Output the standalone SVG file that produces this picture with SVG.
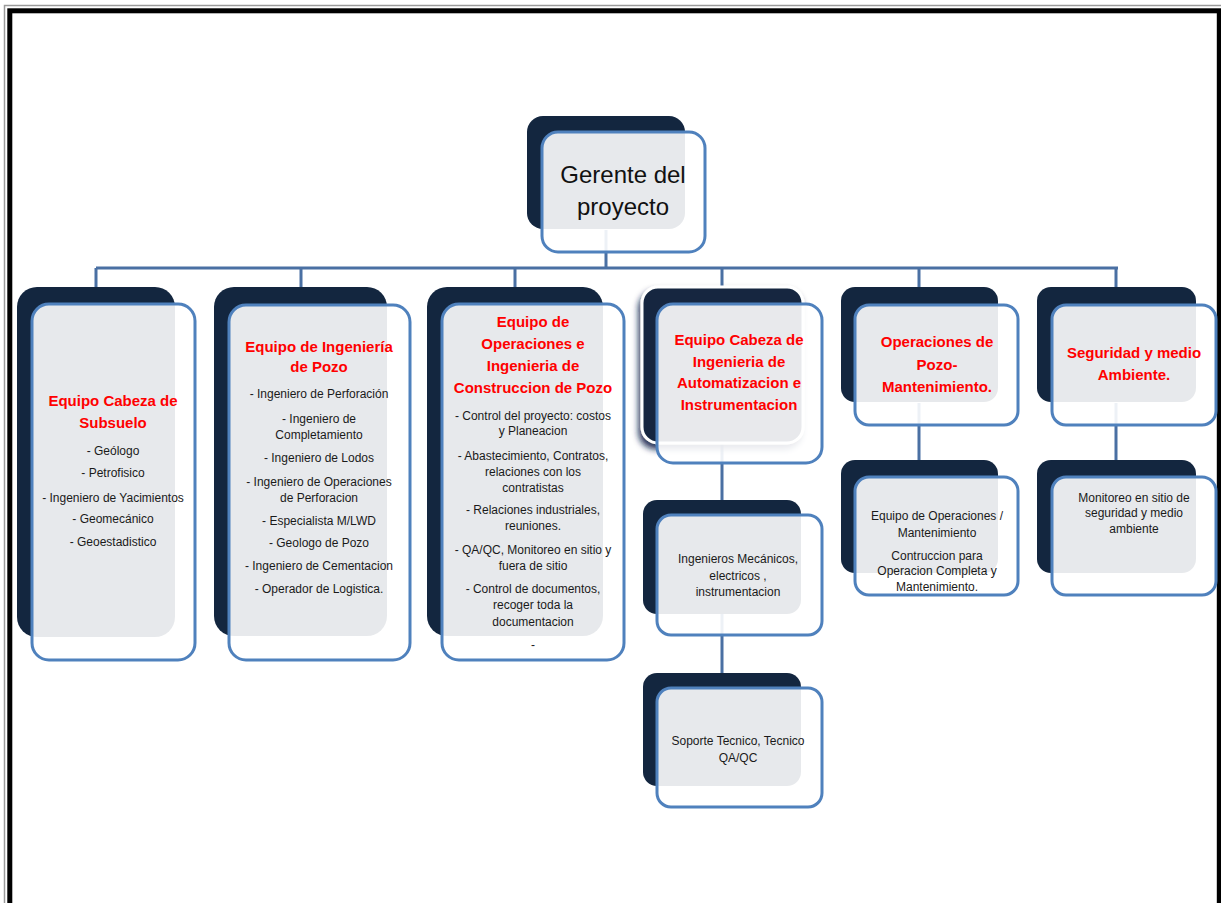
<svg xmlns="http://www.w3.org/2000/svg" width="1221" height="903" viewBox="0 0 1221 903">
<style>
.dk{fill:#13263f}
.fr{fill:#ffffff;fill-opacity:0.9;stroke:#4f81bd;stroke-width:3}
.cn{stroke:#4a70a3;stroke-width:3;fill:none}
.h{font-family:"Liberation Sans",Arial,sans-serif;font-weight:bold;font-size:15px;fill:#ff0000;text-anchor:middle}
.t{font-family:"Liberation Sans",Arial,sans-serif;font-size:12px;fill:#1a1a1a;text-anchor:middle}
.g{font-family:"Liberation Sans",Arial,sans-serif;font-size:24px;fill:#111111;text-anchor:middle}
</style>
<defs>
<filter id="sh" x="-20%" y="-20%" width="140%" height="150%">
<feDropShadow dx="-2" dy="5" stdDeviation="3" flood-color="#0b1f4a" flood-opacity="0.9"/>
</filter>
</defs>
<rect x="0" y="0" width="1221" height="903" fill="#ffffff"/>
<g id="border">
<rect x="4.5" y="5.5" width="1230" height="1000" fill="none" stroke="#9a9a9a" stroke-width="1.5"/>
<rect x="9.8" y="10.8" width="1209.5" height="1000" fill="none" stroke="#000000" stroke-width="5"/>
</g>
<g id="connectors">
<path class="cn" d="M606 230V268M96 268H1118M96 268V287M301 268V287M515 268V287M722 268V287M919 268V287M1116 268V287"/>
<path class="cn" d="M722 444V500M722 614V673M919 403V460M1116 403V460"/>
</g>
<g id="gerente">
<rect class="dk" x="527" y="116" width="158" height="113" rx="16"/>
<rect class="fr" x="542" y="132" width="163" height="120" rx="16"/>
<text class="g" x="623" y="183">Gerente del</text>
<text class="g" x="623" y="215">proyecto</text>
</g>
<g id="subsuelo">
<rect class="dk" x="17" y="287" width="158" height="350" rx="20"/>
<rect class="fr" x="32" y="304" width="163" height="356" rx="17"/>
<text class="h" x="113" y="406">Equipo Cabeza de</text>
<text class="h" x="113" y="428">Subsuelo</text>
<text class="t" x="113" y="455">-  Geólogo</text>
<text class="t" x="113" y="477">- Petrofisico</text>
<text class="t" x="113" y="502">- Ingeniero de Yacimientos</text>
<text class="t" x="113" y="523">- Geomecánico</text>
<text class="t" x="113" y="546">- Geoestadistico</text>
</g>
<g id="ingenieria-pozo">
<rect class="dk" x="214" y="287" width="173" height="349" rx="20"/>
<rect class="fr" x="229" y="305" width="181" height="355" rx="17"/>
<text class="h" x="319" y="352">Equipo de Ingeniería</text>
<text class="h" x="319" y="372">de Pozo</text>
<text class="t" x="319" y="398">- Ingeniero de Perforación</text>
<text class="t" x="319" y="423">- Ingeniero de</text>
<text class="t" x="319" y="439">Completamiento</text>
<text class="t" x="319" y="462">- Ingeniero de Lodos</text>
<text class="t" x="319" y="486">- Ingeniero de Operaciones</text>
<text class="t" x="319" y="502">de Perforacion</text>
<text class="t" x="319" y="525">- Especialista M/LWD</text>
<text class="t" x="319" y="547">- Geologo de Pozo</text>
<text class="t" x="319" y="570">- Ingeniero de Cementacion</text>
<text class="t" x="319" y="593">- Operador de Logistica.</text>
</g>
<g id="construccion-pozo">
<rect class="dk" x="427" y="287" width="176" height="349" rx="20"/>
<rect class="fr" x="442" y="304" width="182" height="356" rx="17"/>
<text class="h" x="533" y="327">Equipo de</text>
<text class="h" x="533" y="349">Operaciones e</text>
<text class="h" x="533" y="371">Ingenieria de</text>
<text class="h" x="533" y="393">Construccion de Pozo</text>
<text class="t" x="533" y="420">- Control del proyecto:  costos</text>
<text class="t" x="533" y="435">y Planeacion</text>
<text class="t" x="533" y="460">- Abastecimiento, Contratos,</text>
<text class="t" x="533" y="476">relaciones con los</text>
<text class="t" x="533" y="492">contratistas</text>
<text class="t" x="533" y="514">- Relaciones industriales,</text>
<text class="t" x="533" y="530">reuniones.</text>
<text class="t" x="533" y="554">- QA/QC, Monitoreo en sitio y</text>
<text class="t" x="533" y="570">fuera de sitio</text>
<text class="t" x="533" y="593">- Control de documentos,</text>
<text class="t" x="533" y="609">recoger toda la</text>
<text class="t" x="533" y="626">documentacion</text>
<text class="t" x="533" y="649">-</text>
</g>
<g id="automatizacion">
<rect class="dk" x="642" y="287" width="161" height="156" rx="16" stroke="#ffffff" stroke-width="3" filter="url(#sh)"/>
<rect class="fr" x="657" y="304" width="165" height="159" rx="16"/>
<text class="h" x="739" y="345">Equipo Cabeza de</text>
<text class="h" x="739" y="367">Ingenieria de</text>
<text class="h" x="739" y="388">Automatizacion e</text>
<text class="h" x="739" y="410">Instrumentacion</text>
</g>
<g id="ingenieros">
<rect class="dk" x="643" y="500" width="158" height="114" rx="14"/>
<rect class="fr" x="657" y="515" width="165" height="120" rx="14"/>
<text class="t" x="738" y="563">Ingenieros Mecánicos,</text>
<text class="t" x="738" y="580">electricos ,</text>
<text class="t" x="738" y="596">instrumentacion</text>
</g>
<g id="soporte">
<rect class="dk" x="643" y="673" width="158" height="113" rx="14"/>
<rect class="fr" x="657" y="688" width="165" height="119" rx="14"/>
<text class="t" x="738" y="745">Soporte Tecnico, Tecnico</text>
<text class="t" x="738" y="762">QA/QC</text>
</g>
<g id="operaciones">
<rect class="dk" x="841" y="287" width="157" height="115" rx="14"/>
<rect class="fr" x="855" y="305" width="163" height="120" rx="14"/>
<text class="h" x="937" y="347">Operaciones de</text>
<text class="h" x="937" y="370">Pozo-</text>
<text class="h" x="937" y="392">Mantenimiento.</text>
</g>
<g id="equipo-operaciones">
<rect class="dk" x="841" y="460" width="157" height="113" rx="14"/>
<rect class="fr" x="855" y="477" width="163" height="118" rx="14"/>
<text class="t" x="937" y="520">Equipo de Operaciones /</text>
<text class="t" x="937" y="537">Mantenimiento</text>
<text class="t" x="937" y="560">Contruccion  para</text>
<text class="t" x="937" y="575">Operacion Completa y</text>
<text class="t" x="937" y="591">Mantenimiento.</text>
</g>
<g id="seguridad">
<rect class="dk" x="1037" y="287" width="159" height="115" rx="14"/>
<rect class="fr" x="1052" y="305" width="164" height="120" rx="14"/>
<text class="h" x="1134" y="358">Seguridad y medio</text>
<text class="h" x="1134" y="380">Ambiente.</text>
</g>
<g id="monitoreo">
<rect class="dk" x="1037" y="460" width="159" height="113" rx="14"/>
<rect class="fr" x="1052" y="477" width="164" height="118" rx="14"/>
<text class="t" x="1134" y="502">Monitoreo en sitio de</text>
<text class="t" x="1134" y="517">seguridad y medio</text>
<text class="t" x="1134" y="533">ambiente</text>
</g>
</svg>
